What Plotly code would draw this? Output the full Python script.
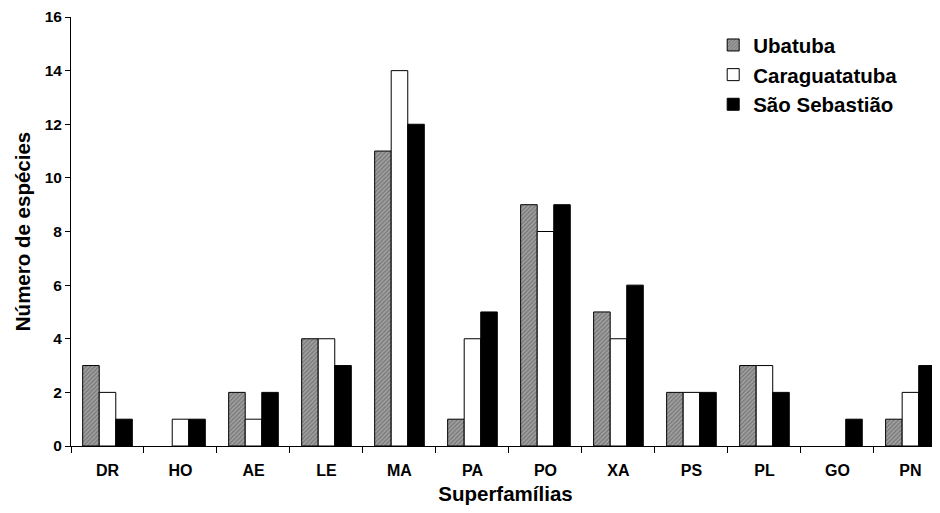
import plotly.graph_objects as go

categories = ["DR", "HO", "AE", "LE", "MA", "PA", "PO", "XA", "PS", "PL", "GO", "PN"]
ubatuba = [3, 0, 2, 4, 11, 1, 9, 5, 2, 3, 0, 1]
caraguatatuba = [2, 1, 1, 4, 14, 4, 8, 4, 2, 3, 0, 2]
sao_sebastiao = [1, 1, 2, 3, 12, 5, 9, 6, 2, 2, 1, 3]
y_ticks = [0, 2, 4, 6, 8, 10, 12, 14, 16]

FONT = "Arial, Liberation Sans, sans-serif"


def nz(vals):
    # zero-valued bars are not drawn in the original chart
    return [v if v else None for v in vals]


fig = go.Figure()
fig.add_trace(go.Bar(
    x=categories, y=nz(ubatuba), name="Ubatuba",
    marker=dict(color="#8c8c8c", line=dict(color="black", width=1),
                pattern=dict(shape="/", fgcolor="#4a4a4a", bgcolor="#a0a0a0", size=3, solidity=0.4)),
))
fig.add_trace(go.Bar(
    x=categories, y=nz(caraguatatuba), name="Caraguatatuba",
    marker=dict(color="white", line=dict(color="black", width=1)),
))
fig.add_trace(go.Bar(
    x=categories, y=nz(sao_sebastiao), name="São Sebastião",
    marker=dict(color="black", line=dict(color="black", width=1)),
))

# page body has an 8px margin, so the figure is offset by (8, 8)
fig.update_layout(
    width=932, height=505,
    margin=dict(l=63, r=0, t=9, b=67),
    paper_bgcolor="white", plot_bgcolor="white",
    barmode="group", bargap=0.32, bargroupgap=0,
    font=dict(family=FONT, size=16, color="black", weight="bold"),
    showlegend=True,
    legend=dict(x=0.739, y=0.981, xanchor="left", yanchor="top",
                font=dict(family=FONT, size=20.5, color="black", weight="bold"),
                bgcolor="rgba(0,0,0,0)", tracegroupgap=0, itemwidth=30),
    xaxis=dict(
        type="category", categoryorder="array", categoryarray=categories,
        range=[-0.5, 11.405], automargin=False,
        showline=True, linecolor="black", linewidth=1,
        ticks="outside", tickson="boundaries", ticklen=6, tickcolor="black",
        ticklabelstandoff=10,
        showgrid=False, zeroline=False,
        tickfont=dict(family=FONT, size=16, color="black", weight="bold"),
        title=dict(text="Superfamílias", font=dict(family=FONT, size=20.5, color="black", weight="bold"),
                   standoff=8),
    ),
    yaxis=dict(
        range=[0, 16], tickvals=y_ticks, automargin=False,
        showline=True, linecolor="black", linewidth=1,
        ticks="outside", ticklen=5, tickcolor="black",
        showgrid=False, zeroline=False,
        tickfont=dict(family=FONT, size=15.5, color="black", weight="bold"),
        title=dict(text="Número de espécies", font=dict(family=FONT, size=20.5, color="black", weight="bold"),
                   standoff=8),
    ),
)

fig.write_html("out.html")
